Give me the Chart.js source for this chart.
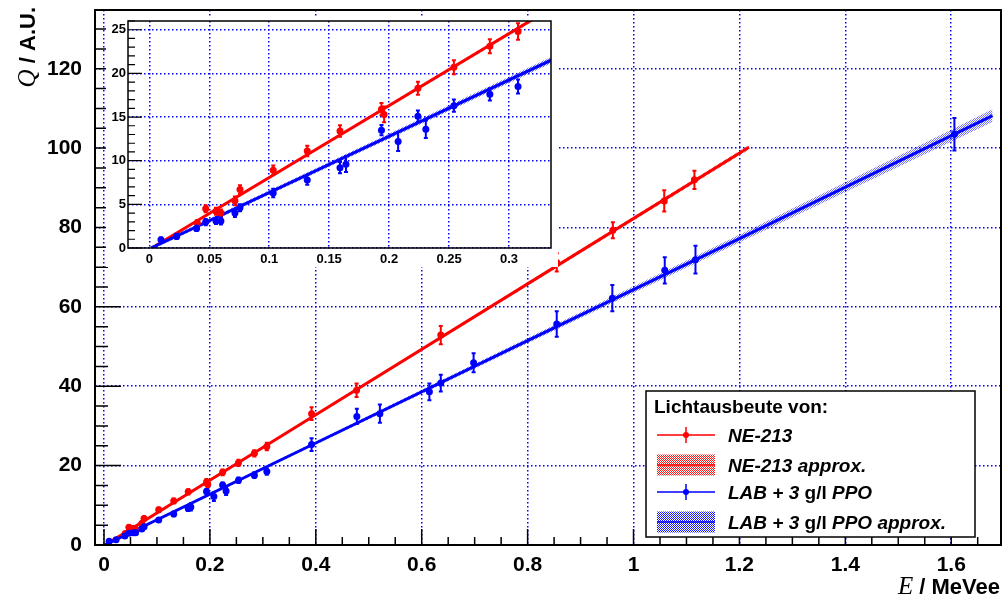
<!DOCTYPE html>
<html>
<head>
<meta charset="utf-8">
<script src="https://cdn.jsdelivr.net/npm/chart.js@4.4.1/dist/chart.umd.min.js"></script>
<style>
html, body { margin: 0; padding: 0; background: #fff; }
#wrap { position: relative; width: 1005px; height: 601px; }
#mainChart { position: absolute; left: 0; top: 0; }
#insetChart { position: absolute; left: 106px; top: 17px; }
</style>
</head>
<body>
<div id="wrap">
  <canvas id="mainChart" width="1005" height="601"></canvas>
  <canvas id="insetChart" width="452" height="250"></canvas>
</div>
<script>
// measured light yield, NE-213
const neX = [0.040, 0.047, 0.0556, 0.0597, 0.0714, 0.0756, 0.1033, 0.1317, 0.159, 0.1936, 0.1958, 0.224, 0.254, 0.284, 0.3075, 0.392, 0.477, 0.636, 0.855, 0.961, 1.058, 1.115];
const neQ = [2.9, 4.5, 4.2, 4.0, 5.4, 6.7, 8.9, 11.1, 13.4, 15.9, 15.3, 18.3, 20.7, 23.1, 24.8, 33.1, 39.0, 52.9, 71.2, 79.3, 86.7, 92.0];
const neErr = [0.3, 0.4, 0.4, 0.4, 0.5, 0.5, 0.55, 0.6, 0.65, 0.7, 0.9, 0.75, 0.8, 0.8, 0.95, 1.6, 1.7, 2.3, 2.3, 2.0, 2.7, 2.3];

// measured light yield, LAB + 3 g/l PPO
const labX = [0.0097, 0.0228, 0.0394, 0.047, 0.0556, 0.0597, 0.0714, 0.0756, 0.1033, 0.1317, 0.159, 0.164, 0.1936, 0.2075, 0.224, 0.2306, 0.254, 0.284, 0.3075, 0.392, 0.4775, 0.521, 0.6145, 0.636, 0.698, 0.855, 0.960, 1.059, 1.117, 1.606];
const labQ = [0.95, 1.33, 2.24, 2.97, 3.1, 3.1, 4.0, 4.6, 6.3, 7.8, 9.2, 9.6, 13.5, 12.2, 15.1, 13.6, 16.3, 17.6, 18.5, 25.3, 32.4, 33.1, 38.6, 40.8, 45.9, 55.7, 62.2, 69.2, 71.9, 103.5];
const labErr = [0.25, 0.3, 0.3, 0.35, 0.35, 0.4, 0.45, 0.4, 0.5, 0.55, 0.65, 0.9, 0.6, 1.1, 0.65, 1.0, 0.7, 0.7, 0.8, 1.6, 1.9, 2.3, 2.1, 2.1, 2.4, 3.2, 3.3, 3.3, 3.5, 4.1];

// fit lines (approx.) and band half widths
const neFitX = [0.002, 0.4, 0.8, 1.218];
const neFitQ = [0, 32.8, 65.8, 100.2];
const neBand = [0.1, 0.25, 0.4, 0.6];
const labFitX = [0.0015, 0.4, 0.8, 1.2, 1.678];
const labFitQ = [0, 25.7, 51.5, 77.2, 108.2];
const labBand = [0.2, 0.4, 0.65, 1.0, 1.6];

// tick labels
const mainXTicks = [0, 0.2, 0.4, 0.6, 0.8, 1, 1.2, 1.4, 1.6];
const mainYTicks = [0, 20, 40, 60, 80, 100, 120];
const insetXTicks = [0, 0.05, 0.1, 0.15, 0.2, 0.25, 0.3];
const insetYTicks = [0, 5, 10, 15, 20, 25];

const legendTitle = "Lichtausbeute von:";
const seriesNames = ["NE-213", "NE-213 approx.", "LAB + 3 g/l PPO", "LAB + 3 g/l PPO approx."];

const RED = "#ff0000";
const BLUE = "#0000ff";
const SANS = '"Liberation Sans", Arial, sans-serif';
const SERIF = '"Liberation Serif", "Times New Roman", serif';

function checker(color) {
    const c = document.createElement("canvas");
    c.width = 2; c.height = 2;
    const g = c.getContext("2d");
    g.fillStyle = color;
    g.fillRect(0, 0, 1, 1);
    g.fillRect(1, 1, 1, 1);
    return g.createPattern(c, "repeat");
}
const redPattern = checker("rgba(255,0,0,0.55)");
const bluePattern = checker("rgba(0,0,255,0.55)");
const redKey = checker("rgba(255,0,0,0.9)");
const blueKey = checker("rgba(0,0,255,0.9)");

function pts(xs, ys) {
    return xs.map((x, i) => ({ x: x, y: ys[i] }));
}

function buildDatasets(r) {
    return [
        { data: pts(neFitX, neFitQ.map((q, i) => q - neBand[i])), borderWidth: 0, pointRadius: 0, fill: false, order: 10, clip: 0 },
        { data: pts(neFitX, neFitQ.map((q, i) => q + neBand[i])), borderWidth: 0, pointRadius: 0, fill: "-1", backgroundColor: redPattern, order: 10, clip: 0 },
        { data: pts(neFitX, neFitQ), borderColor: RED, borderWidth: 3, pointRadius: 0, order: 8, clip: 0 },
        { data: pts(labFitX, labFitQ.map((q, i) => q - labBand[i])), borderWidth: 0, pointRadius: 0, fill: false, order: 7, clip: 0 },
        { data: pts(labFitX, labFitQ.map((q, i) => q + labBand[i])), borderWidth: 0, pointRadius: 0, fill: "-1", backgroundColor: bluePattern, order: 7, clip: 0 },
        { data: pts(labFitX, labFitQ), borderColor: BLUE, borderWidth: 3, pointRadius: 0, order: 6, clip: 0 },
        { data: pts(neX, neQ), errors: neErr, showLine: false, borderColor: RED, backgroundColor: RED, pointRadius: r, pointBorderWidth: 0, order: 3, clip: 0 },
        { data: pts(labX, labQ), errors: labErr, showLine: false, borderColor: BLUE, backgroundColor: BLUE, pointRadius: r, pointBorderWidth: 0, order: 2, clip: 0 }
    ];
}

const whiteBg = {
    id: "whiteBg",
    beforeDraw(chart) {
        const ctx = chart.ctx;
        ctx.save();
        ctx.fillStyle = "#fff";
        ctx.fillRect(0, 0, chart.width, chart.height);
        ctx.restore();
    }
};

const errorBars = {
    id: "errorBars",
    beforeDatasetDraw(chart, args) {
        const ds = chart.data.datasets[args.index];
        if (!ds.errors) return;
        const ys = chart.scales.y;
        const a = chart.chartArea;
        const ctx = chart.ctx;
        ctx.save();
        ctx.beginPath();
        ctx.rect(a.left, a.top, a.right - a.left, a.bottom - a.top);
        ctx.clip();
        ctx.strokeStyle = ds.borderColor;
        ctx.lineWidth = 2;
        args.meta.data.forEach((p, i) => {
            const v = ds.data[i].y, e = ds.errors[i];
            const y1 = ys.getPixelForValue(v - e), y2 = ys.getPixelForValue(v + e);
            ctx.beginPath();
            ctx.moveTo(p.x, y1); ctx.lineTo(p.x, y2);
            ctx.moveTo(p.x - 2, y1); ctx.lineTo(p.x + 2, y1);
            ctx.moveTo(p.x - 2, y2); ctx.lineTo(p.x + 2, y2);
            ctx.stroke();
        });
        ctx.restore();
    }
};

// inner ticks (ROOT style) + frame
function drawTicksFrame(chart, cfg) {
    const ctx = chart.ctx, a = chart.chartArea;
    const xs = chart.scales.x, ys = chart.scales.y;
    ctx.save();
    ctx.strokeStyle = "#000";
    ctx.lineWidth = cfg.tickWidth;
    ctx.beginPath();
    for (let v = 0; v <= ys.max + 1e-9; v += cfg.yMinor) {
        const y = ys.getPixelForValue(v);
        const major = Math.abs(v / cfg.yMajor - Math.round(v / cfg.yMajor)) < 1e-6;
        ctx.moveTo(a.left, y); ctx.lineTo(a.left + (major ? cfg.yMajorLen : cfg.yMinorLen), y);
    }
    if (cfg.xMinor) {
        for (let v = 0; v <= xs.max + 1e-9; v += cfg.xMinor) {
            const x = xs.getPixelForValue(v);
            const major = Math.abs(v / cfg.xMajor - Math.round(v / cfg.xMajor)) < 1e-6;
            ctx.moveTo(x, a.bottom); ctx.lineTo(x, a.bottom - (major ? cfg.xMajorLen : cfg.xMinorLen));
        }
    }
    ctx.stroke();
    ctx.lineWidth = cfg.frameWidth;
    ctx.strokeRect(a.left, a.top, a.right - a.left, a.bottom - a.top);
    ctx.restore();
}

function drawLegendLabel(ctx, text, x, y) {
    // "g/l" upright, the rest bold italic
    const parts = text.split("g/l");
    let cx = x;
    parts.forEach((p, i) => {
        ctx.font = "italic bold 19px " + SANS;
        ctx.fillText(p, cx, y);
        cx += ctx.measureText(p).width;
        if (i < parts.length - 1) {
            ctx.font = "bold 19px " + SANS;
            ctx.fillText("g/l", cx, y);
            cx += ctx.measureText("g/l").width;
        }
    });
}

const mainDecor = {
    id: "mainDecor",
    afterDraw(chart) {
        drawTicksFrame(chart, {
            yMinor: 5, yMajor: 20, yMajorLen: 26, yMinorLen: 13,
            xMinor: 0.05, xMajor: 0.2, xMajorLen: 16, xMinorLen: 8,
            tickWidth: 1.5, frameWidth: 2
        });
        const ctx = chart.ctx;
        ctx.save();
        ctx.fillStyle = "#000";
        ctx.textBaseline = "alphabetic";

        // x title
        ctx.font = "bold 22px " + SANS;
        const rest = " / MeVee";
        const wr = ctx.measureText(rest).width;
        ctx.textAlign = "right";
        ctx.fillText(rest, 1000, 594);
        ctx.font = "italic 25px " + SERIF;
        ctx.fillText("E", 1000 - wr, 594);

        // y title (rotated)
        ctx.save();
        ctx.translate(35, 0);
        ctx.rotate(-Math.PI / 2);
        ctx.textAlign = "right";
        ctx.font = "bold 22px " + SANS;
        const yr = " / A.U.";
        const wy = ctx.measureText(yr).width;
        ctx.fillText(yr, -7, 0);
        ctx.font = "italic 25px " + SERIF;
        ctx.fillText("Q", -7 - wy, 0);
        ctx.restore();

        // legend
        const L = { left: 646, top: 391, right: 975, bottom: 537 };
        ctx.fillStyle = "#fff";
        ctx.fillRect(L.left, L.top, L.right - L.left, L.bottom - L.top);
        ctx.strokeStyle = "#000";
        ctx.lineWidth = 1.5;
        ctx.strokeRect(L.left, L.top, L.right - L.left, L.bottom - L.top);
        ctx.fillStyle = "#000";
        ctx.textAlign = "left";
        ctx.font = "bold 19px " + SANS;
        ctx.fillText(legendTitle, 654, 413);

        const rows = [435, 465, 492, 522];
        const kinds = ["pt", "band", "pt", "band"];
        const cols = [RED, RED, BLUE, BLUE];
        const pats = [redKey, redKey, blueKey, blueKey];
        const x1 = 657, x2 = 715, xm = 686;
        rows.forEach((cy, i) => {
            ctx.strokeStyle = cols[i];
            ctx.fillStyle = cols[i];
            if (kinds[i] === "pt") {
                ctx.lineWidth = 1.5;
                ctx.beginPath();
                ctx.moveTo(x1, cy); ctx.lineTo(x2, cy);
                ctx.moveTo(xm, cy - 8); ctx.lineTo(xm, cy + 8);
                ctx.stroke();
                ctx.beginPath();
                ctx.arc(xm, cy, 3, 0, Math.PI * 2);
                ctx.fill();
            } else {
                ctx.fillStyle = pats[i];
                ctx.fillRect(x1, cy - 10.5, x2 - x1, 21);
                ctx.lineWidth = 1.5;
                ctx.beginPath();
                ctx.moveTo(x1, cy); ctx.lineTo(x2, cy);
                ctx.stroke();
            }
            ctx.fillStyle = "#000";
            drawLegendLabel(ctx, seriesNames[i], 728, cy + 7);
        });
        ctx.restore();
    }
};

const insetDecor = {
    id: "insetDecor",
    afterDraw(chart) {
        drawTicksFrame(chart, {
            yMinor: 1, yMajor: 5, yMajorLen: 14, yMinorLen: 7,
            xMinor: 0, tickWidth: 1.2, frameWidth: 1.5
        });
    }
};

function fmt(v) {
    return String(Math.round(v * 100) / 100);
}

function axisOpts(min, max, ticks, size, pad, fit, isX) {
    return {
        type: "linear", min: min, max: max,
        afterBuildTicks: s => { s.ticks = ticks.map(v => ({ value: v })); },
        afterFit: s => {
            if (isX) s.height = fit; else s.width = fit;
            s.paddingTop = 0; s.paddingBottom = 0; s.paddingLeft = 0; s.paddingRight = 0;
        },
        grid: { color: BLUE, lineWidth: 1.5, drawTicks: false },
        border: { display: false, dash: [1.5, 2.5] },
        ticks: {
            color: "#000", padding: pad, autoSkip: false, maxRotation: 0,
            font: { family: SANS, size: size, weight: "bold" },
            callback: v => fmt(v)
        }
    };
}

new Chart(document.getElementById("mainChart"), {
    type: "line",
    data: { datasets: buildDatasets(3.5) },
    options: {
        responsive: false, animation: false, devicePixelRatio: 1,
        layout: { padding: { left: 0, top: 10, right: 3, bottom: 0 } },
        elements: { line: { tension: 0 } },
        plugins: { legend: { display: false }, tooltip: { enabled: false } },
        scales: {
            x: axisOpts(-0.017, 1.694, mainXTicks, 21, 8, 56, true),
            y: axisOpts(0, 134.8, mainYTicks, 21, 13, 95, false)
        }
    },
    plugins: [whiteBg, errorBars, mainDecor]
});

new Chart(document.getElementById("insetChart"), {
    type: "line",
    data: { datasets: buildDatasets(3.5) },
    options: {
        responsive: false, animation: false, devicePixelRatio: 1,
        layout: { padding: { left: 0, top: 3, right: 7, bottom: 0 } },
        elements: { line: { tension: 0 } },
        plugins: { legend: { display: false }, tooltip: { enabled: false } },
        scales: {
            x: axisOpts(-0.0178, 0.335, insetXTicks, 13, 4, 19, true),
            y: axisOpts(0, 26, insetYTicks, 13, 2, 22, false)
        }
    },
    plugins: [whiteBg, errorBars, insetDecor]
});
</script>
</body>
</html>
